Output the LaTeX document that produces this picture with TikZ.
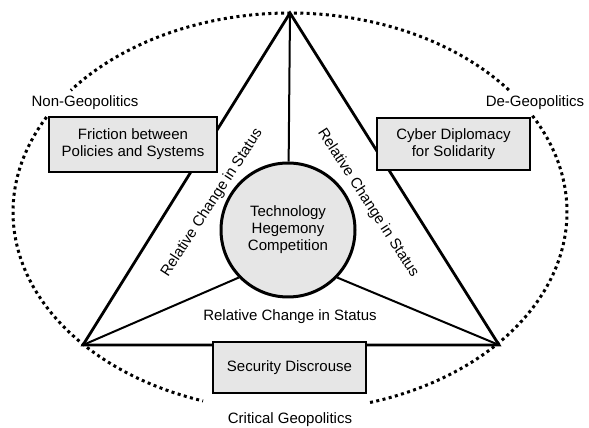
\documentclass[tikz,border=0pt]{standalone}
\usepackage{fontspec}
\setmainfont{Liberation Sans}
\definecolor{boxgray}{HTML}{E6E6E6}
\begin{document}
\begin{tikzpicture}[x=1pt,y=1pt,
    txt/.style={font=\fontsize{15}{17}\selectfont},
    box/.style={txt,draw,line width=2.4pt,fill=boxgray,align=center,minimum width=153pt,minimum height=52pt},
    lbl/.style={txt,inner sep=0pt},
    dotline/.style={line width=3pt,dash pattern=on 3pt off 3.4pt}]
  \useasboundingbox (0,0) rectangle (589,428);
  \coordinate (T) at (290,415);
  \coordinate (L) at (83,83);
  \coordinate (R) at (499,83);
  \coordinate (E) at (290,216);
  % dotted ellipse, broken where the labels sit
  \draw[dotline] (E) ++(37.8:277 and 199) arc[start angle=37.8,end angle=142.3,x radius=277,y radius=199];
  \draw[dotline] (E) ++(151.5:277 and 199) arc[start angle=151.5,end angle=251.7,x radius=277,y radius=199];
  \draw[dotline] (E) ++(286.8:277 and 199) arc[start angle=286.8,end angle=389.4,x radius=277,y radius=199];
  % triangle
  \draw[line width=2.8pt] (T) -- (L) -- (R) -- cycle;
  \node[txt,circle,draw,line width=3pt,fill=boxgray,minimum size=134pt,align=center] (tech) at (288,198) {Technology\\Hegemony\\Competition};
  \draw[line width=2pt] (T) -- (tech);
  \draw[line width=2pt] (L) -- (tech.224);
  \draw[line width=2pt] (R) -- (tech.316);
  % boxes
  \node[box,minimum width=168pt,minimum height=55pt] (fric) at (133,283.5) {Friction between\\Policies and Systems};
  \node[box] (cyber) at (453.5,284) {Cyber Diplomacy\\for Solidarity};
  \node[box,minimum height=51pt] (secu) at (289.5,60.5) {Security Discrouse};
  % labels
  \node[lbl,rotate=57] (lside) at (212,225) {Relative Change in Status};
  \node[lbl,rotate=-57] (rside) at (368,225) {Relative Change in Status};
  \node[lbl,anchor=base] (bside) at (290,107) {Relative Change in Status};
  \node[lbl,anchor=base] (nongeo) at (85,321) {Non-Geopolitics};
  \node[lbl,anchor=base] (degeo) at (535,321) {De-Geopolitics};
  \node[lbl,anchor=base] (crit) at (290,4) {Critical Geopolitics};
\end{tikzpicture}
\end{document}
